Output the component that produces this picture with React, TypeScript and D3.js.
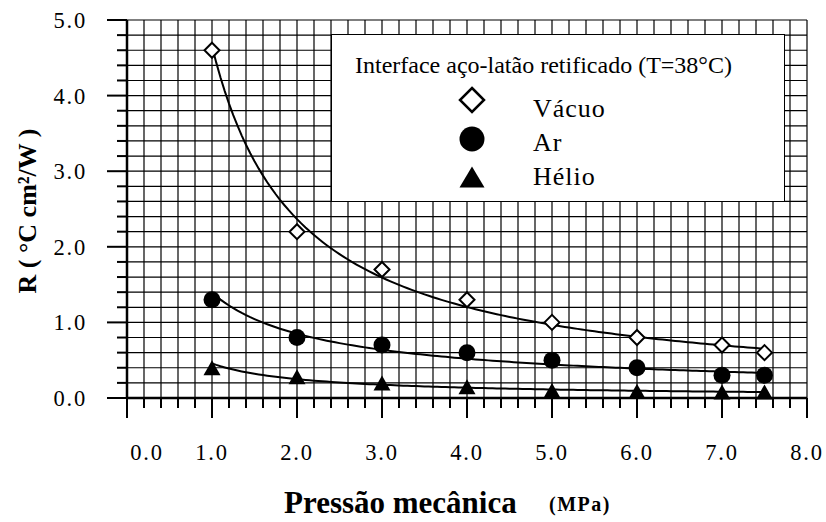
import React from "react";
import * as d3 from "d3";

const pressures = [1, 2, 3, 4, 5, 6, 7, 7.5];
const vacuo = [4.6, 2.2, 1.7, 1.3, 1.0, 0.8, 0.7, 0.6];
const ar = [1.3, 0.8, 0.7, 0.6, 0.5, 0.4, 0.3, 0.3];
const helio = [0.4, 0.28, 0.2, 0.15, 0.1, 0.09, 0.08, 0.08];
const xTickLabels = ["0.0", "1.0", "2.0", "3.0", "4.0", "5.0", "6.0", "7.0", "8.0"];
const yTickLabels = ["0.0", "1.0", "2.0", "3.0", "4.0", "5.0"];
const seriesNames = ["Vácuo", "Ar", "Hélio"];
const legendTitle = "Interface aço-latão retificado (T=38°C)";
const xTitle = "Pressão mecânica";
const xUnit = "(MPa)";
const yTitle = "R ( °C cm²/W )";

const W = 826;
const H = 522;
const x = d3.scaleLinear().domain([0, 8]).range([127, 807]);
const y = d3.scaleLinear().domain([0, 5]).range([398, 20]);

function fitPower(xs: number[], ys: number[]) {
  const lx = xs.map(Math.log);
  const ly = ys.map(Math.log);
  const mx = d3.mean(lx) as number;
  const my = d3.mean(ly) as number;
  let sxy = 0, sxx = 0;
  lx.forEach((v, i) => { sxy += (v - mx) * (ly[i] - my); sxx += (v - mx) * (v - mx); });
  const b = sxy / sxx;
  const a = Math.exp(my - b * mx);
  return (p: number) => a * Math.pow(p, b);
}

const diamond = (cx: number, cy: number, r: number) =>
  `M${cx},${cy - r}L${cx + r},${cy}L${cx},${cy + r}L${cx - r},${cy}Z`;
const triangle = (cx: number, cy: number, w: number, h: number) =>
  `M${cx},${cy - h / 2}L${cx + w / 2},${cy + h / 2}L${cx - w / 2},${cy + h / 2}Z`;

export default function App() {
  const minorX = d3.range(0, 41).map((i) => i * 0.2);
  const minorY = d3.range(0, 26).map((i) => i * 0.2);
  const xMin = pressures[0];
  const xMax = pressures[pressures.length - 1];
  const samples = d3.range(0, 131).map((i) => xMin + ((xMax - xMin) * i) / 130);
  const line = d3.line<[number, number]>().x((d) => x(d[0])).y((d) => y(d[1]));
  const curves = [vacuo, ar, helio].map((s) => {
    const f = fitPower(pressures, s);
    return line(samples.map((p) => [p, f(p)] as [number, number])) as string;
  });
  const serif = "'Liberation Serif', 'Times New Roman', serif";

  return (
    <svg width={W} height={H} style={{ position: "absolute", left: 0, top: 0, background: "#fff" }}
      fontFamily={serif}>
      <rect x={0} y={0} width={W} height={H} fill="#fff" />
      {/* grid */}
      <g stroke="#000" strokeWidth={1.2}>
        {minorX.map((v, i) => (
          <line key={"gx" + i} x1={x(v)} x2={x(v)} y1={y(5)} y2={y(0)} />
        ))}
        {minorY.map((v, i) => (
          <line key={"gy" + i} x1={x(0)} x2={x(8)} y1={y(v)} y2={y(v)} />
        ))}
      </g>
      {/* ticks */}
      <g stroke="#000" strokeWidth={2}>
        {minorY.map((v, i) => (
          <line key={"ty" + i} x1={x(0) - (i % 5 === 0 ? 20 : 10)} x2={x(0)} y1={y(v)} y2={y(v)} />
        ))}
        {minorX.map((v, i) => (
          <line key={"tx" + i} x1={x(v)} x2={x(v)} y1={y(0)} y2={y(0) + (i % 5 === 0 ? 20 : 10)} />
        ))}
        <line x1={x(0)} x2={x(0)} y1={y(5)} y2={y(0)} strokeWidth={2.5} />
        <line x1={x(0)} x2={x(8)} y1={y(0)} y2={y(0)} strokeWidth={2.5} />
      </g>
      {/* tick labels */}
      <g fontSize={22.5} letterSpacing={1.8} fill="#000">
        {yTickLabels.map((t, i) => (
          <text key={"yl" + i} x={x(0) - 40} y={y(i) + 8} textAnchor="end">{t}</text>
        ))}
        {xTickLabels.map((t, i) => (
          <text key={"xl" + i} x={x(i) + (i === 0 ? 20 : 0)} y={460} textAnchor="middle">{t}</text>
        ))}
      </g>
      {/* curves */}
      <g fill="none" stroke="#000" strokeWidth={2}>
        {curves.map((d, i) => <path key={"c" + i} d={d} />)}
      </g>
      {/* markers */}
      <g>
        {pressures.map((p, i) => (
          <path key={"v" + i} d={diamond(x(p), y(vacuo[i]), 7.5)} fill="#fff" stroke="#000" strokeWidth={2} />
        ))}
        {pressures.map((p, i) => (
          <circle key={"a" + i} cx={x(p)} cy={y(ar[i])} r={8.5} fill="#000" />
        ))}
        {pressures.map((p, i) => (
          <path key={"h" + i} d={triangle(x(p), y(helio[i]), 17, 15)} fill="#000" />
        ))}
      </g>
      {/* legend */}
      <g>
        <rect x={331.5} y={34.5} width={453} height={167} fill="#fff" stroke="#000" strokeWidth={1} />
        <text x={355} y={73} fontSize={24} fill="#000">{legendTitle}</text>
        <path d={diamond(472, 100, 12)} fill="#fff" stroke="#000" strokeWidth={2.5} />
        <circle cx={472} cy={139} r={12.5} fill="#000" />
        <path d={triangle(472, 177, 25, 21)} fill="#000" />
        <g fontSize={26} letterSpacing={1} fill="#000">
          <text x={533} y={117}>{seriesNames[0]}</text>
          <text x={533} y={151}>{seriesNames[1]}</text>
          <text x={533} y={185}>{seriesNames[2]}</text>
        </g>
      </g>
      {/* axis titles */}
      <text x={284} y={513} fontSize={31} fontWeight="bold" fill="#000">{xTitle}</text>
      <text x={549} y={511} fontSize={20} fontWeight="bold" letterSpacing={1.5} fill="#000">{xUnit}</text>
      <text transform="translate(36,211) rotate(-90)" textAnchor="middle" fontSize={26}
        fontWeight="bold" fill="#000">{yTitle}</text>
    </svg>
  );
}
